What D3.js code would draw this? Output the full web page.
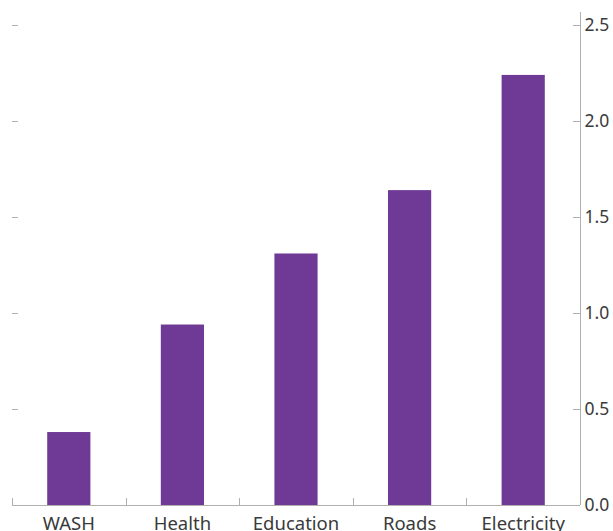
<!DOCTYPE html>
<html><head><meta charset="utf-8">
<script src="https://cdn.jsdelivr.net/npm/d3@7"></script>
<style>body{margin:0;background:#fff}svg{display:block}text{font-family:"Noto Sans",Lato,sans-serif}</style>
</head><body><svg id="c" width="613" height="531"></svg>
<script>
const categories = ["WASH","Health","Education","Roads","Electricity"];
const values = [0.38, 0.94, 1.31, 1.64, 2.24];
const yTicks = [0, 0.5, 1.0, 1.5, 2.0, 2.5];

(function(){
const svg = d3.select("#c");
const mL = 12, mR = 580, mT = 25, mB = 505;
const x = d3.scaleBand().domain(categories).range([mL, mR]).paddingInner(0.62).paddingOuter(0.31);
const xb = d3.scaleBand().domain(categories).range([mL, mR]).padding(0);
const y = d3.scaleLinear().domain([0, 2.5]).range([mB, mT]);
const grey = "#b0b0b0";
const txt = "#3a3a3a";

svg.append("g").selectAll("rect").data(values).join("rect")
  .attr("x", (d,i) => x(categories[i])).attr("width", x.bandwidth())
  .attr("y", d => y(d)).attr("height", d => y(0) - y(d))
  .attr("fill", "#6f3996");

// left ticks (no line, no labels)
svg.append("g").selectAll("line").data(yTicks.slice(1)).join("line")
  .attr("x1", mL).attr("x2", mL + 6).attr("y1", d => Math.round(y(d)) + 0.5).attr("y2", d => Math.round(y(d)) + 0.5)
  .attr("stroke", grey).attr("stroke-width", 1);

// right axis
const ry = svg.append("g").attr("transform", `translate(${mR + 0.5},0)`)
  .call(d3.axisRight(y).tickValues(yTicks).tickFormat(d3.format(".1f")).tickSize(0).tickPadding(4));
ry.select(".domain").remove();
ry.selectAll("text").attr("font-size", 17.5).attr("fill", txt).attr("font-family", "'Noto Sans', sans-serif");
svg.append("line").attr("x1", mR + 0.5).attr("x2", mR + 0.5).attr("y1", 12).attr("y2", mB).attr("stroke", grey);
svg.append("g").selectAll("line").data(yTicks.slice(1)).join("line")
  .attr("x1", mR - 7).attr("x2", mR).attr("y1", d => Math.round(y(d)) + 0.5).attr("y2", d => Math.round(y(d)) + 0.5)
  .attr("stroke", grey);

// bottom axis
svg.append("line").attr("x1", mL).attr("x2", mR).attr("y1", mB + 0.5).attr("y2", mB + 0.5).attr("stroke", grey);
const bounds = categories.map(c => xb(c));
svg.append("g").selectAll("line").data(bounds).join("line")
  .attr("x1", d => Math.round(d) + 0.5).attr("x2", d => Math.round(d) + 0.5)
  .attr("y1", mB - 7).attr("y2", mB).attr("stroke", grey);
svg.append("g").selectAll("text").data(categories).join("text")
  .attr("x", d => xb(d) + xb.bandwidth() / 2).attr("y", 530)
  .attr("text-anchor", "middle").attr("font-size", 18.5).attr("fill", txt).text(d => d);
})();
</script></body></html>
